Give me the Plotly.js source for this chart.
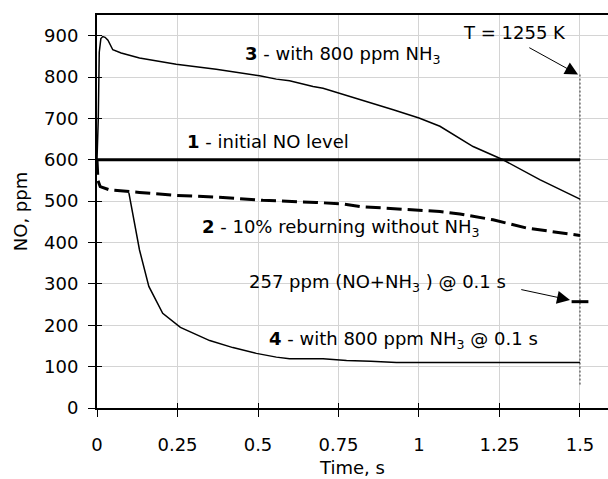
<!DOCTYPE html>
<html>
<head>
<meta charset="utf-8">
<script src="https://cdn.plot.ly/plotly-3.0.1.min.js"></script>
<style>html,body{margin:0;padding:0;background:#fff;}#chart{width:608px;height:479px;}</style>
</head>
<body>
<div id="chart"></div>
<script>
// ---- data ----
const xTickVals = [0, 0.25, 0.5, 0.75, 1, 1.25, 1.5];
const xTickText = ['0', '0.25', '0.5', '0.75', '1', '1.25', '1.5'];
const yTickVals = [0, 100, 200, 300, 400, 500, 600, 700, 800, 900];
const yTickText = ['0', '100', '200', '300', '400', '500', '600', '700', '800', '900'];

// 1 - initial NO level
const t1 = [0, 1.5];
const no1 = [600, 600];

// 2 - 10% reburning without NH3
const t2 = [0, 0.003, 0.01, 0.04, 0.132, 0.246, 0.391, 0.515, 0.681, 0.764, 0.816, 1.065, 1.127, 1.23, 1.334, 1.5];
const no2 = [600, 550, 535, 527, 521, 514, 509, 502, 497, 493, 487, 475, 469, 455, 435, 417];

// 3 - with 800 ppm NH3
const t3 = [0, 0.004, 0.007, 0.012, 0.018, 0.025, 0.034, 0.049, 0.075, 0.132, 0.246, 0.37, 0.505, 0.557, 0.598, 0.671, 0.702, 0.754, 0.837, 0.92, 1.0, 1.065, 1.168, 1.261, 1.375, 1.5];
const no3 = [600, 700, 860, 893, 898, 896, 889, 866, 858, 846, 831, 819, 803, 795, 791, 777, 773, 761, 741, 721, 701, 681, 632, 600, 552, 505];

// 4 - with 800 ppm NH3 @ 0.1 s
const t4 = [0.099, 0.117, 0.132, 0.161, 0.204, 0.259, 0.35, 0.422, 0.495, 0.557, 0.598, 0.702, 0.775, 0.85, 0.93, 1.5];
const no4 = [520, 447, 382, 294, 229, 195, 163, 146, 132, 123, 119, 119, 115, 113, 110, 110];

// T = 1255 K marker line and the 257 ppm point
const tMark = [1.5, 1.5];
const noMark = [806, 55];
const tPoint = [1.5];
const noPoint = [257];

// annotation texts
const labels = {
  T: 'T = 1255 K',
  s3: '<b>3</b> - with 800 ppm NH<sub>3</sub>',
  s1: '<b>1</b> - initial NO level',
  s2: '<b>2</b> - 10% reburning without NH<sub>3</sub>',
  p: '257 ppm (NO+NH<sub>3</sub> ) @ 0.1 s',
  s4: '<b>4</b> - with 800 ppm NH<sub>3</sub> @ 0.1 s'
};

const FONT = 'DejaVu Sans, Liberation Sans, Arial, sans-serif';
const FS = 18;

const traces = [
  {x: tMark, y: noMark, mode: 'lines', line: {color: '#333', width: 1, dash: '2px,2px'}, hoverinfo: 'skip'},
  {x: t1, y: no1, mode: 'lines', line: {color: '#000', width: 3}},
  {x: t2, y: no2, mode: 'lines', line: {color: '#000', width: 3, dash: '15px,6px'}},
  {x: t3, y: no3, mode: 'lines', line: {color: '#000', width: 1.5}},
  {x: t4, y: no4, mode: 'lines', line: {color: '#000', width: 1.5}},
  {x: tPoint, y: noPoint, mode: 'markers', marker: {symbol: 'line-ew', size: 12, line: {color: '#000', width: 3}}},
  {x: [null], y: [null], xaxis: 'x2', yaxis: 'y2', mode: 'lines', hoverinfo: 'skip'}
];

function ann(text, x, y) {
  return {text: text, x: x, y: y, xref: 'x', yref: 'y', showarrow: false,
          font: {family: FONT, size: FS, color: '#000'}, xanchor: 'center', yanchor: 'middle'};
}
function arrow(x, y, ax, ay) {
  return {text: '', x: x, y: y, ax: ax, ay: ay, xref: 'x', yref: 'y', axref: 'x', ayref: 'y',
          showarrow: true, arrowhead: 2, arrowsize: 2.6, arrowwidth: 1, arrowcolor: '#000', standoff: 0};
}

const layout = {
  width: 608, height: 479,
  margin: {l: 97, r: 0, t: 15, b: 71, pad: 0},
  paper_bgcolor: '#fff', plot_bgcolor: '#fff',
  showlegend: false,
  font: {family: FONT, size: FS, color: '#000'},
  xaxis: {
    range: [0, 1.587], tickvals: xTickVals, ticktext: xTickText,
    showgrid: true, gridcolor: '#d4d4d4', gridwidth: 1, zeroline: false,
    showline: true, linecolor: '#000', linewidth: 2, mirror: true,
    ticks: 'outside', ticklen: 7, tickwidth: 1, tickcolor: '#000',
    ticklabelstandoff: 12,
    tickfont: {family: FONT, size: FS, color: '#000'},
    title: {text: 'Time, s', font: {family: FONT, size: FS, color: '#000'}, standoff: 8}
  },
  yaxis: {
    range: [0, 950], tickvals: yTickVals, ticktext: yTickText,
    showgrid: true, gridcolor: '#d4d4d4', gridwidth: 1, zeroline: false,
    showline: true, linecolor: '#000', linewidth: 2,
    ticks: 'outside', ticklen: 7, tickwidth: 1, tickcolor: '#000',
    ticklabelstandoff: 6,
    tickfont: {family: FONT, size: FS, color: '#000'},
    title: {text: 'NO, ppm', font: {family: FONT, size: FS, color: '#000'}, standoff: 12}
  },
  xaxis2: {
    overlaying: 'x', anchor: 'y', range: [0, 1.587], tickvals: xTickVals,
    showticklabels: false, showgrid: false, zeroline: false, showline: false,
    ticks: 'inside', ticklen: 5, tickwidth: 1, tickcolor: '#000'
  },
  yaxis2: {
    overlaying: 'y', anchor: 'x', range: [0, 950], tickvals: yTickVals,
    showticklabels: false, showgrid: false, zeroline: false, showline: false,
    ticks: 'inside', ticklen: 5, tickwidth: 1, tickcolor: '#000'
  },
  annotations: [
    ann(labels.T, 1.298, 908),
    arrow(1.494, 806, 1.338, 873),
    ann(labels.s3, 0.763, 854),
    ann(labels.s1, 0.53, 645),
    ann(labels.s2, 0.757, 436),
    ann(labels.p, 0.872, 303),
    arrow(1.469, 261, 1.313, 287),
    ann(labels.s4, 0.953, 165)
  ]
};

Plotly.newPlot('chart', traces, layout, {staticPlot: true, displayModeBar: false});
</script>
</body>
</html>
